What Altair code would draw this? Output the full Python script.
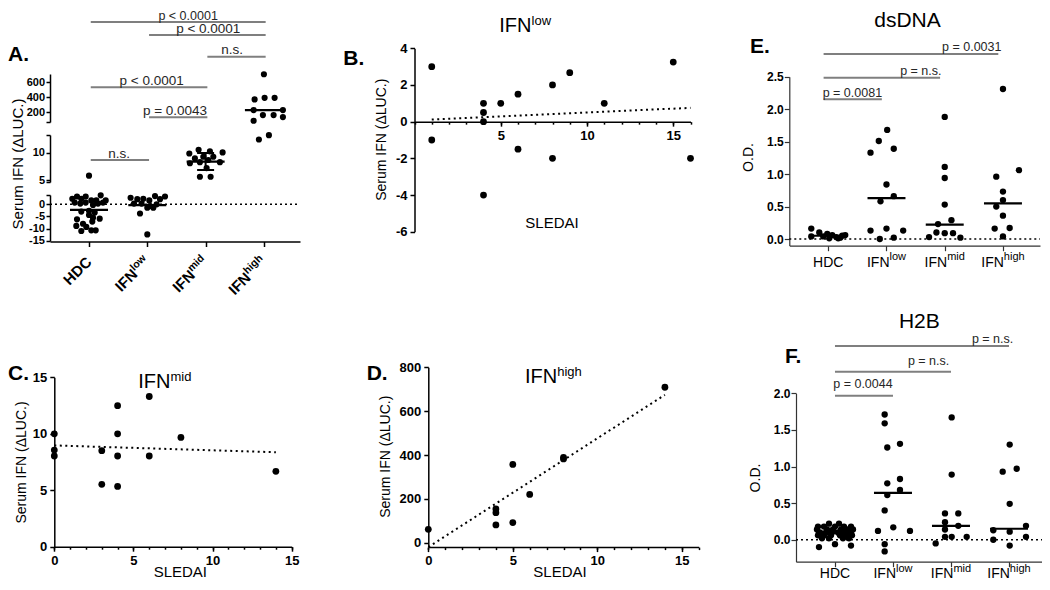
import altair as alt
import pandas as pd

FONT = "Liberation Sans, Arial, sans-serif"
W, H = 1034, 574

# ============================ DATA ============================
GROUP_BASE = ["HDC", "IFN", "IFN", "IFN"]
GROUP_SUP = ["", "low", "mid", "high"]

# Panel A: serum IFN (dLUC.) per group; *_JIT = horizontal scatter of each dot (px)
A_HDC = [5.8, 2.3, 3.2, 2.3, 3.2, 1.6, 1.6, 3.7, 1.6, 0.7, 0.3, 0.7, -0.3, 0.3, 0.7,
         -3.0, -2.7, -3.4, -6.2, -5.5, -5.9, -4.4, -8.0, -7.1, -9.3, -8.9, -11.0, -10.7, -10.7]
A_HDC_JIT = [0, -16.7, -12, -7.7, -3.3, 2.3, 7.3, 11.7, 16.7, -14.3, -8.7, -3.3, 4, 9, 14,
             -7.7, 0, 5.7, -12, 4, 10.7, 0, -6, 3.3, -2.7, -12.7, -7.7, 2.3, 6.7]
A_LOW = [2.7, 2.1, 2.3, 1.6, 3.4, 2.1, 3.2, 0.3, 0.3, -0.7, 0.0, -3.8, -1.4, -1.4, -12.4]
A_LOW_JIT = [-16.7, -10, -4, 2, 7.7, 12.7, 17.7, -13.3, -5.7, 2.7, 9.3, -7.3, 0, 6, 0]
A_MID = [9.9, 10.6, 10.3, 10.1, 9.0, 9.3, 9.3, 8.1, 8.3, 8.7, 8.3, 7.2, 5.6, 5.6]
A_MID_JIT = [-16.3, -7, 4.3, 17, -10.7, -2.3, 7.7, -15.7, -5.7, 2.7, 14.3, 1, -5.7, 5]
A_HIGH = [707, 369, 391, 391, 227, 227, 160, 160, 84, 133, 12.5, 13.3]
A_HIGH_JIT = [0, -9.3, 0.7, 10.7, -10.3, 19, -1, 9.7, -10.3, 19, -5, 5]
A_MEDIAN = [-2.3, -0.3, 8.4, 225]
A_MID_IQR = [6.85, 10.0]
A_TESTS = [(0, 3, "p < 0.0001"), (1, 3, "p < 0.0001"), (2, 3, "n.s."),
           (0, 2, "p < 0.0001"), (1, 2, "p = 0.0043"), (0, 1, "n.s.")]

# Panels B, C, D: SLEDAI vs serum IFN
B_SLEDAI = [1, 1, 4, 4, 4, 4, 5, 6, 6, 8, 8, 9, 11, 15, 16]
B_IFN = [3, -1, 1, 0.5, 0, -4, 1, 1.5, -1.5, 2, -2, 2.67, 1, 3.25, -2]
C_SLEDAI = [0, 0, 0, 3, 3, 4, 4, 4, 4, 6, 6, 8, 14]
C_IFN = [10.0, 8.56, 8.03, 8.5, 5.52, 12.49, 10.0, 8.03, 5.34, 13.3, 8.03, 9.68, 6.67]
D_SLEDAI = [0, 4, 4, 4, 5, 5, 6, 8, 8, 14]
D_IFN = [61, 154, 137, 81, 357, 92, 220, 389, 382, 709]

# Panel E: dsDNA O.D.
E_HDC = [0.16, 0.04, 0.10, 0.04, 0.08, 0.01, 0.06, 0.03, 0.01, 0.05, 0.06, 0.02]
E_HDC_JIT = [-17, -17, -9, -5, -1, 1, 4, 8, 10, 14, 17, 12]
E_LOW = [1.68, 1.51, 1.39, 1.33, 0.84, 0.66, 0.58, 0.13, 0.16, 0.13, 0.00, 0.02]
E_LOW_JIT = [0.7, -7.7, 7.3, -16, 0, 7.3, -6, -16, 0, 16.7, -6.7, 7.3]
E_MID = [1.88, 1.11, 0.94, 0.53, 0.29, 0.23, 0.03, 0.10, 0.09, 0.09, 0.02]
E_MID_JIT = [0, 0, 0, 0, 6.7, -6.7, -15.7, -8.3, 0, 8.3, 15.7]
E_HIGH = [2.31, 1.06, 0.96, 0.73, 0.60, 0.50, 0.36, 0.16, 0.17, 0.04]
E_HIGH_JIT = [0, 16, -6.7, 0, 0, -6.7, 0, -8.3, 6.7, 0]
E_MEDIAN = [0.05, 0.63, 0.22, 0.55]
E_TESTS = [(0, 1, "p = 0.0081"), (0, 2, "p = n.s."), (0, 3, "p = 0.0031")]

# Panel F: H2B O.D.
F_HDC = [0.22, 0.22, 0.18, 0.18, 0.18, 0.18, 0.18, 0.14, 0.14, 0.14, 0.14, 0.14, 0.14,
         0.10, 0.10, 0.10, 0.10, 0.10, 0.10, 0.06, 0.06, 0.06, 0.06, 0.06, 0.06,
         0.02, 0.02, 0.02, 0.02, -0.06, -0.08, -0.10]
F_HDC_JIT = [-6, 4, -17, -11, 0, 9, 16, -18, -8, -2, 6, 12, 18,
             -15, -9, -3, 3, 9, 15, -17, -11, -4, 5, 11, 17,
             -13, -6, 8, 14, 0, 16, -16]
F_LOW = [1.71, 1.59, 1.26, 1.31, 0.77, 0.83, 0.61, 0.68, 0.40, 0.12, 0.17, 0.12, -0.06, -0.16]
F_LOW_JIT = [-8.3, -8.3, -5.7, 7, -5.7, 7, -5.7, 7, -8.3, -15, 0.3, 17, -8.3, -8.3]
F_MID = [1.67, 0.89, 0.36, 0.36, 0.24, 0.14, 0.19, 0.04, 0.04, 0.04, -0.05]
F_MID_JIT = [0.7, 0.7, -6, 7.3, -6, -6, 7.3, -6, 0.7, 15.7, -15.3]
F_HIGH = [1.30, 0.93, 0.97, 0.49, 0.19, 0.13, 0.11, 0.00, 0.04, -0.08]
F_HIGH_JIT = [0.7, -6.3, 7.7, 0.7, 17, -15.7, 0.7, -15.7, 17, 0.7]
F_MEDIAN = [0.10, 0.64, 0.19, 0.15]
F_TESTS = [(0, 1, "p = 0.0044"), (0, 2, "p = n.s."), (0, 3, "p = n.s.")]

# ============================ LAYOUT (px, chart coordinates) ============================
A_STEP = 58.3
A_XD, A_XR = [-0.669, 3.619], [42, 292]
A_XAXIS_Y, A_YAXIS_X, A_LAB_Y = 233.5, 42, 251.5
A_SEGS = [
    dict(lo=-1e6, hi=4.2, domain=[-15.1, 3.83], range=[233, 187], ticks=[-15, -10, -5, 0], caps=[3.83]),
    dict(lo=4.2, hi=40, domain=[4.63, 13.33], range=[174, 127], ticks=[5, 10], caps=[4.63, 13.33]),
    dict(lo=40, hi=1e6, domain=[67, 710], range=[114, 66], ticks=[200, 400, 600], caps=[67]),
]
# (bar y, text x in group units, text baseline y, align, font size)
A_BRACKETS = [(14, 1.70, 12, "center", 12.5), (27, 2.046, 25, "center", 13.5), (48.7, 2.453, 46, "center", 13.5),
              (79.3, 1.075, 77.3, "center", 13.5), (109.3, 1.475, 106.8, "center", 13.5),
              (152, 0.515, 150, "center", 13.5)]

B_XD, B_XR, B_YD, B_YR = [0, 16], [406.5, 682.5], [-6, 4], [223.7, 40.3]
C_XD, C_XR, C_YD, C_YR = [0, 15], [46.3, 283.7], [0, 15], [538.7, 369.3]
D_XD, D_XR, D_YD, D_YR = [0, 16], [420.3, 690.7], [-20, 800], [539.1, 359.3]

E_STEP = 58.3
E_XD, E_XR, E_YD, E_YR = [-0.669, 3.636], [781.3, 1032], [-0.1, 2.5], [237.5, 68.7]
E_XAXIS_Y, E_LAB_Y, E_SHIFT = 237.7, 258.7, -0.08
E_BRACKETS = [(91.3, -0.096, 88.5, "left", 12.5), (69.7, 1.945, 66.5, "right", 12.5),
              (46, 2.974, 43, "right", 12.5)]

F_STEP = 58.0
F_XD, F_XR, F_YD, F_YR = [-0.672, 3.707], [788, 1042], [-0.3, 2.0], [553.7, 385.3]
F_XAXIS_Y, F_LAB_Y, F_SHIFT = 553.7, 570, 0.0
F_BRACKETS = [(387.7, -0.03, 379.5, "left", 12.5), (363.7, 1.97, 356.5, "right", 12.5),
              (338, 3.074, 335, "right", 12.5)]

BR_COLOR, P_COLOR = "#7f7f7f", "#262626"

# ============================ HELPERS ============================
ONE = pd.DataFrame({"k": [0]})
REG = dict(I=.278, F=.611, N=.722, l=.222, o=.556, w=.722, m=.833, i=.222, d=.556, h=.556, g=.556)
BOLD = dict(I=.278, F=.611, N=.722, l=.278, o=.611, w=.778, m=.889, i=.278, d=.611, h=.611, g=.611)


def tw(s, size, bold=False):
    t = BOLD if bold else REG
    return sum(t[c] for c in s) * size


def sc(d, r, **kw):
    return alt.Scale(domain=d, range=r, nice=False, zero=False, **kw)


def axis(orient, offset, values, labels=True, fmt=None, expr=None, size=13, weight="bold",
         tick=5, color="black", width=1.5, domain=True, pad=2):
    kw = dict(orient=orient, offset=offset, values=values, title=None, grid=False,
              labels=labels, ticks=True, tickSize=tick, tickColor=color, tickWidth=width,
              domain=domain, domainColor=color, domainWidth=width,
              labelFont=FONT, labelFontSize=size, labelFontWeight=weight, labelColor="black",
              labelPadding=pad, labelFlush=False, labelOverlap=False)
    if fmt:
        kw["format"] = fmt
    if expr:
        kw["labelExpr"] = expr
    return alt.Axis(**kw)


def txt(text, x, y, size, weight="normal", align="left", baseline="alphabetic", angle=0,
        color="black", dx=0, dy=0):
    return alt.Chart(ONE).mark_text(text=text, font=FONT, fontSize=size, fontWeight=weight,
                                    align=align, baseline=baseline, angle=angle, color=color,
                                    dx=dx, dy=dy).encode(x=alt.value(x), y=alt.value(y))


def group_df(vals, jits):
    rows = []
    for g, (vs, js) in enumerate(zip(vals, jits)):
        for v, j in zip(vs, js):
            rows.append({"g": g, "v": v, "jit": j})
    return pd.DataFrame(rows)


def brackets(tests, layout, xscale, shift):
    out = []
    for (i1, i2, lab), (by, tx, ty, al, fs) in zip(tests, layout):
        d = pd.DataFrame({"a": [i1 + shift], "b": [i2 + shift], "t": [tx]})
        out.append(alt.Chart(d).mark_rule(color=BR_COLOR, strokeWidth=2).encode(
            x=alt.X("a:Q", scale=xscale, axis=None), x2="b:Q", y=alt.value(by)))
        out.append(alt.Chart(d).mark_text(text=lab, font=FONT, fontSize=fs, align=al,
                                          baseline="alphabetic", color=P_COLOR).encode(
            x=alt.X("t:Q", scale=xscale, axis=None), y=alt.value(ty)))
    return out


def hlabels(xscale, base_y):
    out = []
    for k in range(4):
        d = pd.DataFrame({"g": [k]})
        enc = dict(x=alt.X("g:Q", scale=xscale, axis=None), y=alt.value(base_y))
        common = dict(font=FONT, color="black", baseline="alphabetic")
        if GROUP_SUP[k]:
            wm = tw(GROUP_BASE[k], 14)
            ws = tw(GROUP_SUP[k], 11)
            tot = wm + ws
            out.append(alt.Chart(d).mark_text(text=GROUP_BASE[k], fontSize=14, align="left",
                                              dx=-tot / 2, **common).encode(**enc))
            out.append(alt.Chart(d).mark_text(text=GROUP_SUP[k], fontSize=11, align="left",
                                              dx=-tot / 2 + wm, dy=-6.5, **common).encode(**enc))
        else:
            out.append(alt.Chart(d).mark_text(text=GROUP_BASE[k], fontSize=14, align="center",
                                              **common).encode(**enc))
    return out


def sup_title(x, y, sup):
    return [txt("IFN", x, y, 20), txt(sup, x + tw("IFN", 20), y - 7.5, 13)]


layers = []

# ============================ PANEL A ============================
A_df = group_df([A_HDC, A_LOW, A_MID, A_HIGH], [A_HDC_JIT, A_LOW_JIT, A_MID_JIT, A_HIGH_JIT])
A_med = pd.DataFrame({"g": [0, 1, 2, 3], "v": A_MEDIAN})
A_x = sc(A_XD, A_XR)
half_a = 19 / A_STEP
seg_scales = []
for si, seg in enumerate(A_SEGS):
    ys = sc(seg["domain"], seg["range"])
    seg_scales.append(ys)
    expr = f"indexof({seg['ticks']}, datum.value) >= 0 ? '' + datum.value : ''"
    yax = axis("left", -A_YAXIS_X, seg["ticks"] + seg["caps"], expr=expr, size=11, tick=4, pad=1.5)
    xax = axis("bottom", A_XAXIS_Y - H, [0, 1, 2, 3], labels=False, tick=5) if si == 0 else None
    flt = f"datum.v >= {seg['lo']} && datum.v < {seg['hi']}"
    layers.append(alt.Chart(A_df).transform_filter(flt).transform_calculate(
        xp=f"datum.g + datum.jit / {A_STEP}").mark_circle(size=38, color="black", opacity=1).encode(
        x=alt.X("xp:Q", scale=A_x, axis=xax), y=alt.Y("v:Q", scale=ys, axis=yax)))
    layers.append(alt.Chart(A_med).transform_filter(flt).transform_calculate(
        a=f"datum.g - {half_a}", b=f"datum.g + {half_a}").mark_rule(color="black", strokeWidth=2.2).encode(
        x=alt.X("a:Q", scale=A_x, axis=None), x2="b:Q", y=alt.Y("v:Q", scale=ys, axis=None)))

# zero line
layers.append(alt.Chart(pd.DataFrame({"v": [0]})).mark_rule(color="black", strokeWidth=1.5, strokeDash=[2, 3]).encode(
    y=alt.Y("v:Q", scale=seg_scales[0], axis=None), x=alt.value(A_XR[0]), x2=alt.value(A_XR[1])))
# interquartile range of IFN-mid
iqr = pd.DataFrame({"g": [2], "lo": [A_MID_IQR[0]], "hi": [A_MID_IQR[1]]})
layers.append(alt.Chart(iqr).mark_rule(color="black", strokeWidth=2).encode(
    x=alt.X("g:Q", scale=A_x, axis=None), y=alt.Y("lo:Q", scale=seg_scales[1], axis=None), y2="hi:Q"))
cap = 8.5 / A_STEP
layers.append(alt.Chart(iqr).transform_fold(["lo", "hi"], as_=["k", "val"]).transform_calculate(
    a=f"datum.g - {cap}", b=f"datum.g + {cap}").mark_rule(color="black", strokeWidth=2).encode(
    x=alt.X("a:Q", scale=A_x, axis=None), x2="b:Q", y=alt.Y("val:Q", scale=seg_scales[1], axis=None)))

layers += brackets(A_TESTS, A_BRACKETS, A_x, 0.03)

# rotated category labels
for k in range(4):
    d = pd.DataFrame({"g": [k]})
    enc = dict(x=alt.X("g:Q", scale=A_x, axis=None), y=alt.value(A_LAB_Y))
    common = dict(font=FONT, fontWeight="bold", angle=315, align="right", baseline="middle", color="black")
    if GROUP_SUP[k]:
        ws = tw(GROUP_SUP[k], 10.5, bold=True)
        layers.append(alt.Chart(d).mark_text(text=GROUP_BASE[k], fontSize=15, dx=-ws, **common).encode(**enc))
        layers.append(alt.Chart(d).mark_text(text=GROUP_SUP[k], fontSize=10.5, dy=-4, **common).encode(**enc))
    else:
        layers.append(alt.Chart(d).mark_text(text=GROUP_BASE[k], fontSize=15, **common).encode(**enc))

layers.append(txt("A.", 0, 52.7, 21, weight="bold"))
layers.append(txt("Serum IFN (\u0394LUC.)", 9.5, 156, 15, align="center", baseline="middle", angle=270))


# ============================ PANELS B, C, D ============================
def scatter_panel(xs_, ys_, xd, xr, yd, yr, yvals, xvals, size, x_axis_y, clamp=False):
    df = pd.DataFrame({"s": xs_, "v": ys_})
    xsc = sc(xd, xr)
    ysc = sc(yd, yr)
    out = []
    out.append(alt.Chart(df).mark_circle(size=size, color="black", opacity=1).encode(
        x=alt.X("s:Q", scale=xsc, axis=axis("bottom", x_axis_y - H, xvals, expr="'' + datum.value", tick=4.5, pad=3)),
        y=alt.Y("v:Q", scale=ysc, axis=axis("left", -xr[0], yvals, expr="'' + datum.value", tick=4.5, pad=3))))
    ysc2 = sc(yd, yr, clamp=True) if clamp else ysc
    out.append(alt.Chart(df).transform_regression("s", "v").mark_line(
        color="black", strokeWidth=2, strokeDash=[2, 3.5]).encode(
        x=alt.X("s:Q", scale=xsc, axis=axis("bottom", x_axis_y - H, list(range(xd[0], xd[1] + 1)),
                                            labels=False, domain=False, tick=2.5)),
        y=alt.Y("v:Q", scale=ysc2, axis=None)))
    return out


# B: x axis crosses at y = 0
b_zero = B_YR[0] - (0 - B_YD[0]) / (B_YD[1] - B_YD[0]) * (B_YR[0] - B_YR[1])
layers += scatter_panel(B_SLEDAI, B_IFN, B_XD, B_XR, B_YD, B_YR, [-6, -4, -2, 0, 2, 4], [5, 10, 15], 46, b_zero)
layers += scatter_panel(C_SLEDAI, C_IFN, C_XD, C_XR, C_YD, C_YR, [0, 5, 10, 15], [0, 5, 10, 15], 46, C_YR[0])
layers += scatter_panel(D_SLEDAI, D_IFN, D_XD, D_XR, D_YD, D_YR, [0, 200, 400, 600, 800], [0, 5, 10, 15], 46,
                        D_YR[0], clamp=True)

layers.append(txt("B.", 335.3, 57, 21, weight="bold"))
layers.append(txt("C.", 0, 372, 21, weight="bold"))
layers.append(txt("D.", 358.7, 372, 21, weight="bold"))
layers += sup_title(491.3, 24.3, "low")
layers += sup_title(130.3, 380.3, "mid")
layers += sup_title(517, 375.3, "high")
for (x, y) in [(374, 131.7), (13.7, 454.5), (378.3, 448.7)]:
    layers.append(txt("Serum IFN (\u0394LUC.)", x, y, 14, align="center", baseline="middle", angle=270))
for (x, y) in [(544, 220.3), (172.3, 569), (552, 569)]:
    layers.append(txt("SLEDAI", x, y, 15, align="center"))


# ============================ PANELS E, F ============================
def od_panel(vals, jits, medians, xd, xr, yd, yr, step, xaxis_y, lab_y, tests, blay, shift, title, tpos, letter, lpos, odpos):
    df = group_df(vals, jits)
    med = pd.DataFrame({"g": [0, 1, 2, 3], "v": medians})
    xsc = sc(xd, xr)
    ysc = sc(yd, yr)
    out = []
    yvals = [v / 2 for v in range(0, int(yd[1] * 2) + 1)]
    out.append(alt.Chart(pd.DataFrame({"v": [0]})).mark_rule(color="black", strokeWidth=1.5, strokeDash=[2, 3]).encode(
        y=alt.Y("v:Q", scale=ysc, axis=None), x=alt.value(xr[0]), x2=alt.value(xr[1])))
    out.append(alt.Chart(df).transform_calculate(xp=f"datum.g + datum.jit / {step}").mark_circle(
        size=40, color="black", opacity=1).encode(
        x=alt.X("xp:Q", scale=xsc, axis=axis("bottom", xaxis_y - H, [0, 1, 2, 3], labels=False, tick=5,
                                             color="#333", width=1.2)),
        y=alt.Y("v:Q", scale=ysc, axis=axis("left", -xr[0], yvals, fmt=".1f", size=12, tick=5,
                                            color="#333", width=1.2, pad=1))))
    half = 19 / step
    out.append(alt.Chart(med).transform_calculate(a=f"datum.g - {half}", b=f"datum.g + {half}").mark_rule(
        color="black", strokeWidth=2.2).encode(
        x=alt.X("a:Q", scale=xsc, axis=None), x2="b:Q", y=alt.Y("v:Q", scale=ysc, axis=None)))
    out += brackets(tests, blay, xsc, shift)
    out += hlabels(xsc, lab_y)
    out.append(txt(title, tpos[0], tpos[1], 21, align="center"))
    out.append(txt(letter, lpos[0], lpos[1], 21, weight="bold"))
    out.append(txt("O.D.", odpos[0], odpos[1], 14, align="center", baseline="middle", angle=270))
    return out


layers += od_panel([E_HDC, E_LOW, E_MID, E_HIGH], [E_HDC_JIT, E_LOW_JIT, E_MID_JIT, E_HIGH_JIT], E_MEDIAN,
                   E_XD, E_XR, E_YD, E_YR, E_STEP, E_XAXIS_Y, E_LAB_Y, E_TESTS, E_BRACKETS, E_SHIFT,
                   "dsDNA", (899.5, 18.7), "E.", (742, 45.3), (741, 149.5))
layers += od_panel([F_HDC, F_LOW, F_MID, F_HIGH], [F_HDC_JIT, F_LOW_JIT, F_MID_JIT, F_HIGH_JIT], F_MEDIAN,
                   F_XD, F_XR, F_YD, F_YR, F_STEP, F_XAXIS_Y, F_LAB_Y, F_TESTS, F_BRACKETS, F_SHIFT,
                   "H2B", (911.3, 320.3), "F.", (777, 355.3), (748, 470))

chart = alt.layer(*layers).resolve_scale(x="independent", y="independent").properties(
    width=W, height=H, padding=0, autosize=alt.AutoSizeParams(type="none"), background="white"
).configure_view(stroke="transparent")

chart.save("out.html", embed_options={"renderer": "svg", "actions": False})
